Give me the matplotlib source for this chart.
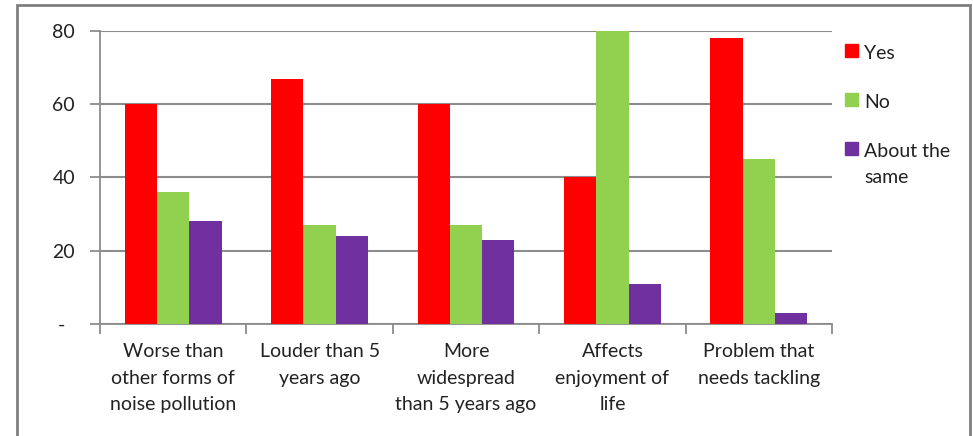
import numpy as np
import matplotlib
matplotlib.use('Agg')
import matplotlib.pyplot as plt
from matplotlib.patches import Rectangle

# data
categories = ['Worse than\nother forms of\nnoise pollution', 'Louder than 5\nyears ago',
              'More\nwidespread\nthan 5 years ago', 'Affects\nenjoyment of\nlife',
              'Problem that\nneeds tackling']
yes = [60, 67, 60, 40, 78]
no = [36, 27, 27, 80, 45]
about_same = [28, 24, 23, 11, 3]
series_names = ['Yes', 'No', 'About the\nsame']
colors = ['#FF0000', '#92D050', '#7030A0']
yticks = [0, 20, 40, 60, 80]
ytick_labels = ['-  ', '20', '40', '60', '80']

plt.rcParams['font.family'] = ['Lato', 'DejaVu Sans']
grey = '#8c8c8c'
W, H = 973, 436

fig = plt.figure(figsize=(W / 100, H / 100), dpi=100)
ax = fig.add_axes([100 / W, 1 - 324 / H, 732 / W, 293 / H])

x = np.arange(len(categories))
w = 0.22
for i, (vals, c, name) in enumerate(zip([yes, no, about_same], colors, series_names)):
    ax.bar(x + (i - 1) * w, vals, width=w, color=c, label=name, zorder=3)

ax.set_xlim(-0.5, len(categories) - 0.5)
ax.set_ylim(0, 80)
ax.set_yticks(yticks)
ax.set_yticklabels(ytick_labels, fontsize=14, color='#222222')
ax.set_xticks(x)
ax.set_xticklabels(categories, fontsize=14, color='#222222', linespacing=1.68,
                   va='top')
ax.set_xticks(np.arange(len(categories) + 1) - 0.5, minor=True)
ax.tick_params(axis='x', which='major', length=0, pad=14)
ax.tick_params(axis='x', which='minor', length=7, color=grey, width=1.3)
ax.tick_params(axis='y', length=7, color=grey, width=1.3, pad=11)

ax.grid(axis='y', color=grey, linewidth=1.5, zorder=0)
for s in ['top', 'right']:
    ax.spines[s].set_visible(False)
for s in ['left', 'bottom']:
    ax.spines[s].set_color(grey)
    ax.spines[s].set_linewidth(1.3)

# legend, marker aligned with the first text line
for i, (name, c) in enumerate(zip(series_names, colors)):
    yc = 51 + i * 49
    fig.patches.append(Rectangle((845 / W, 1 - (yc + 6.5) / H), 13 / W, 13 / H,
                                 transform=fig.transFigure, color=c))
    fig.text(864 / W, 1 - (yc - 6) / H, name, fontsize=14, color='#222222',
             va='top', ha='left', linespacing=1.62)

# outer chart frame
fig.patches.append(Rectangle((17 / W, -0.05), 953 / W, 1.05 - 5 / H,
                             transform=fig.transFigure, fill=False,
                             edgecolor='#808080', linewidth=2))

fig.savefig('out.png', dpi=100)
